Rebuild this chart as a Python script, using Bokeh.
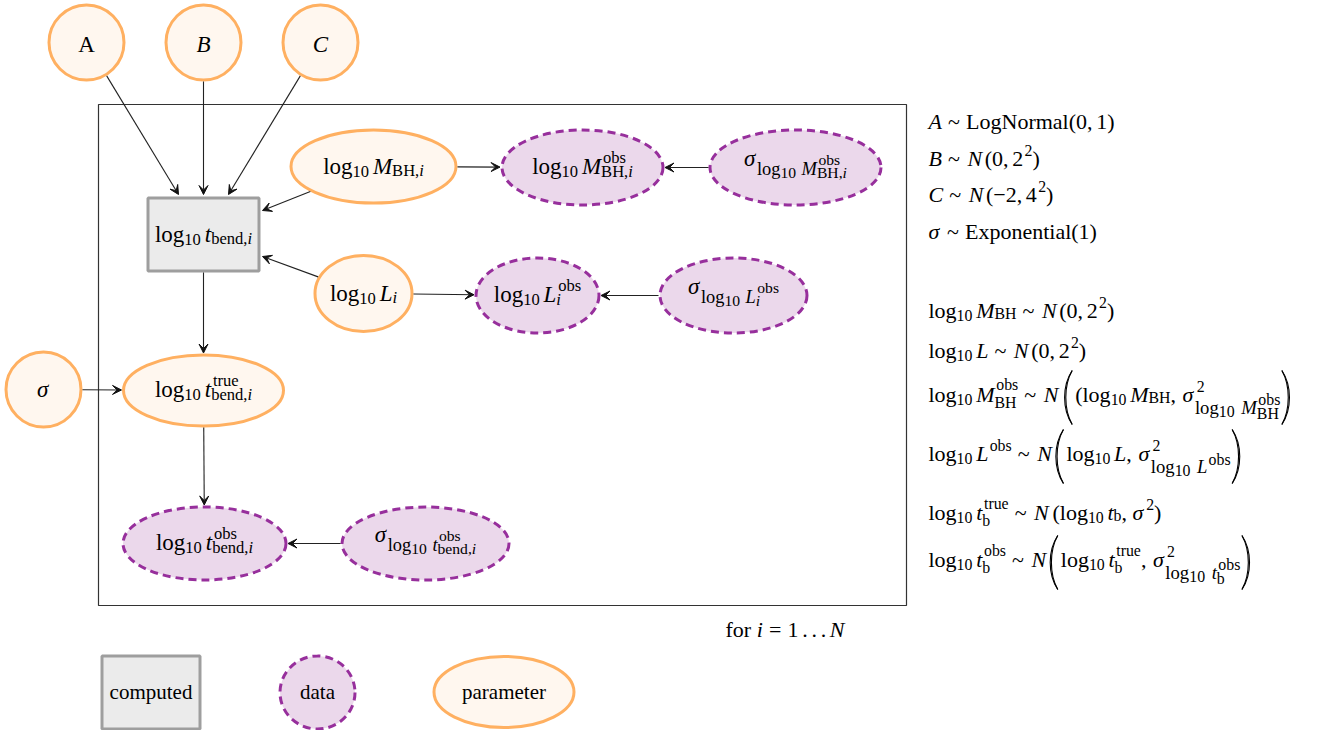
import math
from bokeh.plotting import figure
from bokeh.models import Range1d, Arrow, VeeHead, ColumnDataSource
from bokeh.embed import file_html
from bokeh.resources import INLINE
from bokeh.core.properties import value

# ---------------- rich-text helpers (math-like labels) ----------------
def R(t): return ("r", t)
def I(t): return ("i", t)
def SP(e): return ("sp", e)
def SUB(items, d=0.15, f=None): return ("sub", items, d, f)
def SUP(items, r=0.36): return ("sup", items, r)
def SS(sup, sub, r=0.40, d=0.25, f=None): return ("ss", sup, sub, r, d, f)
def BIG(ch): return ("big", ch)

def LOG10(gap=0.167): return [R("log"), SUB([R("10")], 0.22), SP(gap)]
SIM = [SP(0.278), R("~"), SP(0.278)]
NN = [SP(0.06), I("N"), SP(0.12)]          # the normal-distribution symbol

# ---------------- diagram content ----------------
node_ids   = ["A", "B", "C", "sig", "tb", "M", "Mo", "sM", "L", "Lo", "sL", "tt", "to", "st"]
node_kinds = ["param", "param", "param", "param", "computed", "param", "data", "data",
              "param", "data", "data", "param", "data", "data"]
node_labels = [
    [R("A")],
    [I("B")],
    [I("C")],
    [I("σ")],
    LOG10() + [I("t"), SUB([R("bend,"), I("i")], 0.18)],
    LOG10() + [I("M"), SUB([R("BH,"), I("i")], 0.18)],
    LOG10() + [I("M"), SS([R("obs")], [R("BH,"), I("i")], 0.38, 0.24)],
    [I("σ"), SUB(LOG10(0.3) + [I("M"), SS([R("obs")], [R("BH,"), I("i")], 0.5, 0.2)], 0.48, 0.8)],
    LOG10() + [I("L"), SUB([I("i")], 0.18)],
    LOG10() + [I("L"), SS([R("obs")], [I("i")], 0.38, 0.24)],
    [I("σ"), SUB(LOG10(0.3) + [I("L"), SS([R("obs")], [I("i")], 0.5, 0.2)], 0.48, 0.8)],
    LOG10() + [I("t"), SS([R("true")], [R("bend,"), I("i")], 0.38, 0.24)],
    LOG10() + [I("t"), SS([R("obs")], [R("bend,"), I("i")], 0.38, 0.24)],
    [I("σ"), SUB(LOG10(0.3) + [I("t"), SS([R("obs")], [R("bend,"), I("i")], 0.5, 0.2)], 0.48, 0.8)],
]

edge_src = ["A", "B", "C", "M", "L", "tb", "sig", "tt", "st", "M", "sM", "L", "sL"]
edge_dst = ["tb", "tb", "tb", "tb", "tb", "tt", "tt", "to", "to", "Mo", "Mo", "Lo", "Lo"]

legend_labels = ["computed", "data", "parameter"]
legend_kinds = ["computed", "data", "param"]

plate_label = [R("for "), I("i"), SP(0.278), R("="), SP(0.278), R("1"), SP(0.17), R("."),
               SP(0.17), R("."), SP(0.17), R("."), SP(0.17), I("N")]

equations = [
    [I("A")] + SIM + [R("LogNormal(0,"), SP(0.167), R("1)")],
    [I("B")] + SIM + NN + [R("(0,"), SP(0.167), R("2"), SUP([R("2")]), R(")")],
    [I("C")] + SIM + NN + [R("(−2,"), SP(0.167), R("4"), SUP([R("2")]), R(")")],
    [I("σ")] + SIM + [R("Exponential(1)")],
    LOG10() + [I("M"), SUB([R("BH")])] + SIM + NN + [R("(0,"), SP(0.167), R("2"), SUP([R("2")]), R(")")],
    LOG10() + [I("L")] + SIM + NN + [R("(0,"), SP(0.167), R("2"), SUP([R("2")]), R(")")],
    LOG10() + [I("M"), SS([R("obs")], [R("BH")], 0.45, 0.38)] + SIM + NN
    + [SP(0.1), BIG("("), R("(log"), SUB([R("10")], 0.22), SP(0.167), I("M"), SUB([R("BH")]),
       R(","), SP(0.3), I("σ"),
       SS([R("2")], LOG10(0.35) + [I("M"), SS([R("obs")], [R("BH")], 0.45, 0.3)], 0.38, 0.6, 0.85),
       BIG(")")],
    LOG10() + [I("L"), SUP([R("obs")], 0.38)] + SIM + NN
    + [BIG("(")] + LOG10() + [I("L"), R(","), SP(0.3), I("σ"),
       SS([R("2")], LOG10(0.35) + [I("L"), SUP([R("obs")], 0.4)], 0.38, 0.6, 0.85), BIG(")")],
    LOG10() + [I("t"), SS([R("true")], [R("b")], 0.4, 0.38)] + SIM + NN
    + [SP(0.05), R("(")] + LOG10() + [I("t"), SUB([R("b")]), R(","), SP(0.25), I("σ"),
       SUP([R("2")]), R(")")],
    LOG10() + [I("t"), SS([R("obs")], [R("b")], 0.4, 0.38)] + SIM + NN
    + [BIG("(")] + LOG10() + [I("t"), SS([R("true")], [R("b")], 0.4, 0.38),
       R(","), SP(0.3), I("σ"),
       SS([R("2")], LOG10(0.35) + [I("t"), SS([R("obs")], [R("b")], 0.45, 0.3)], 0.38, 0.6, 0.85),
       BIG(")")],
]

# ---------------- layout (pixel coordinates of the picture) ----------------
node_x = [86, 203, 320, 43, 203, 373, 582, 795, 363, 537, 733, 203, 204, 425]
node_y = [42, 42, 42, 389, 234, 166, 167, 167, 293, 295, 295, 390, 543, 543]
node_w = [75, 75, 75, 75, 111, 165, 161, 171, 97, 123, 147, 160, 163, 167]
node_h = [75, 75, 75, 75, 73, 73, 75, 75, 76, 75, 75, 71, 73, 73]
# landing points on the computed box (offset from its centre)
box_anchor = {"A": (-25, -40), "B": (0, -40), "C": (25, -40), "M": (59, -24), "L": (59, 22)}

legend_x = [150.5, 317, 503.5]
legend_y = [692, 692, 691.5]
legend_w = [98, 75, 140]
legend_h = [73, 73, 71]

plate = dict(left=98, right=906, top=104, bottom=605)
plate_label_xy = (725, 635)
eq_x = 928
eq_baselines = [127, 164, 200, 237, 316, 356, 400, 459, 518, 565]

W, H = 1318, 730
TEXT_DY = -6.0   # correction between requested and rendered alphabetic baseline

# ---------------- styles ----------------
FONT = "Liberation Serif"
ORANGE, ORANGE_FILL = "#ffb061", "#fff7ef"
PURPLE, PURPLE_FILL = "#972f9c", "#ebd8eb"
GRAY, GRAY_FILL = "#9e9e9e", "#ebebeb"

ROMAN = {" ": 250, "(": 333, ")": 333, ",": 250, "-": 333, ".": 250, "=": 564, "~": 541, "−": 564,
         "A": 722, "B": 667, "C": 667, "D": 722, "E": 611, "F": 556, "G": 722, "H": 722, "I": 333,
         "L": 611, "M": 889, "N": 722, "O": 722, "P": 556, "R": 667, "S": 556, "T": 611, "X": 722,
         "a": 444, "b": 500, "c": 444, "d": 500, "e": 444, "f": 333, "g": 500, "h": 500, "i": 278,
         "j": 278, "k": 500, "l": 278, "m": 778, "n": 500, "o": 500, "p": 500, "q": 500, "r": 333,
         "s": 389, "t": 278, "u": 500, "v": 500, "w": 722, "x": 500, "y": 500, "z": 444, "σ": 560}
for d in "0123456789":
    ROMAN[d] = 500
ITAL = {"A": 611, "B": 611, "C": 667, "L": 556, "M": 833, "N": 667, "i": 278, "t": 278, "σ": 560}


def text_width(t, style, size):
    tab = ITAL if style == "italic" else ROMAN
    return sum(tab.get(ch, ROMAN.get(ch, 500)) for ch in t) * size / 1000.0


def script(size, depth, f=None):
    if f is None:
        f = 0.72 if depth == 0 else 0.85
    return max(size * f, 11.5)


PAREN_H = 54
parens = []  # (x_left_of_ink, y_centre, height, side)


def lay(items, x, y, size, out, depth=0, record=True):
    for it in items:
        k = it[0]
        if k in ("r", "i"):
            st = "italic" if k == "i" else "normal"
            out.append((x, y, it[1], size, st))
            x += text_width(it[1], st, size)
        elif k == "sp":
            x += it[1] * size
        elif k == "sub":
            x = lay(it[1], x, y + it[2] * size, script(size, depth, it[3]), out, depth + 1, record)
        elif k == "sup":
            x = lay(it[1], x + 0.06 * size, y - it[2] * size, script(size, depth), out, depth + 1, record)
        elif k == "ss":
            x1 = lay(it[1], x + 0.08 * size, y - it[3] * size, script(size, depth), out, depth + 1, record)
            x2 = lay(it[2], x, y + it[4] * size, script(size, depth, it[5]), out, depth + 1, record)
            x = max(x1, x2)
        elif k == "big":
            if record:
                parens.append((x + 1.5, y - 3.0, PAREN_H, it[1]))
            x += 12
    return x


glyphs = []


def place(items, x, y, size, center=False):
    if center:
        w = lay(items, 0, 0, size, [], record=False)
        x = x - w / 2.0
    lay(items, x, y, size, glyphs)


def label_dy(items):
    first = items[0]
    if first == I("σ") and len(items) > 1:
        return -3.5
    if any(it[0] in ("ss", "sup") for it in items):
        return 4.5
    if len(items) == 1 and first[1] in ("A", "B", "C"):
        return 7.5
    return 5.5


# ---------------- figure ----------------
p = figure(width=W, height=H, x_range=Range1d(0, W), y_range=Range1d(H, 0),
           output_backend="svg", toolbar_location=None, tools="", min_border=0)
p.axis.visible = False
p.grid.visible = False
p.outline_line_color = None
p.background_fill_color = "white"
p.border_fill_color = "white"

# plate
p.quad(left=[plate["left"]], right=[plate["right"]], top=[plate["top"]], bottom=[plate["bottom"]],
       fill_color=None, line_color="#333333", line_width=1.2)

# nodes (diagram + legend)
all_kind = node_kinds + legend_kinds
all_x = node_x + legend_x
all_y = node_y + legend_y
all_w = node_w + legend_w
all_h = node_h + legend_h


def subset(kind):
    idx = [i for i, k in enumerate(all_kind) if k == kind]
    return ColumnDataSource(dict(x=[all_x[i] for i in idx], y=[all_y[i] for i in idx],
                                 w=[all_w[i] for i in idx], h=[all_h[i] for i in idx]))


p.ellipse(x="x", y="y", width="w", height="h", source=subset("param"),
          fill_color=ORANGE_FILL, line_color=ORANGE, line_width=3)
p.ellipse(x="x", y="y", width="w", height="h", source=subset("data"),
          fill_color=PURPLE_FILL, line_color=PURPLE, line_width=3, line_dash="8 5")
p.rect(x="x", y="y", width="w", height="h", source=subset("computed"),
       fill_color=GRAY_FILL, line_color=GRAY, line_width=3)

# edges
pos = {n: i for i, n in enumerate(node_ids)}


def boundary(i, tx, ty, pad):
    cx, cy = node_x[i], node_y[i]
    a, b = node_w[i] / 2.0 + pad, node_h[i] / 2.0 + pad
    dx, dy = tx - cx, ty - cy
    if node_kinds[i] == "computed":
        t = min(a / abs(dx) if dx else 1e9, b / abs(dy) if dy else 1e9)
    else:
        t = 1.0 / math.sqrt((dx / a) ** 2 + (dy / b) ** 2)
    return cx + t * dx, cy + t * dy


xs0, ys0, xs1, ys1 = [], [], [], []
for s, d in zip(edge_src, edge_dst):
    si, di = pos[s], pos[d]
    if node_kinds[di] == "computed":
        ox, oy = box_anchor[s]
        ex, ey = node_x[di] + ox, node_y[di] + oy
    else:
        ex, ey = boundary(di, node_x[si], node_y[si], 2.0)
    sx, sy = boundary(si, ex, ey, 1.5)
    xs0.append(sx); ys0.append(sy); xs1.append(ex); ys1.append(ey)

p.add_layout(Arrow(end=VeeHead(size=9, fill_color="#111111", line_color="#111111", line_width=1),
                   source=ColumnDataSource(dict(x0=xs0, y0=ys0, x1=xs1, y1=ys1)),
                   x_start="x0", y_start="y0", x_end="x1", y_end="y1",
                   line_color="#222222", line_width=1.1))

# labels
for i, lab in enumerate(node_labels):
    place(lab, node_x[i], node_y[i] + label_dy(lab), 23, center=True)
for i, lab in enumerate(legend_labels):
    place([R(lab)], legend_x[i], legend_y[i] + 5.5, 21, center=True)
place(plate_label, plate_label_xy[0], plate_label_xy[1], 22)
for eq, yb in zip(equations, eq_baselines):
    place(eq, eq_x, yb, 22)

groups = {}
for (x, y, t, size, st) in glyphs:
    groups.setdefault((round(size, 2), st), []).append((x, y, t))
for (size, st), rows in groups.items():
    src = ColumnDataSource(dict(x=[r[0] for r in rows], y=[r[1] + TEXT_DY for r in rows],
                                t=[r[2] for r in rows]))
    p.text(x="x", y="y", text="t", source=src, text_font=value(FONT),
           text_font_size=value(f"{size}px"), text_font_style=st,
           text_align="left", text_baseline="alphabetic", text_color="black")

# large delimiters, drawn as thin curved strokes
bx0, by0, bx1, by1, bc0x, bc0y, bc1x, bc1y = [], [], [], [], [], [], [], []
for (xl, yc, h, side) in parens:
    top, bot = yc - h / 2.0, yc + h / 2.0
    for bulge in (0.0, 1.6):
        if side == "(":
            xe, xc = xl + 7.5, xl - 1.0 - bulge
        else:
            xe, xc = xl, xl + 8.5 + bulge
        bx0.append(xe); by0.append(top); bx1.append(xe); by1.append(bot)
        bc0x.append(xc); bc0y.append(top + 0.28 * h); bc1x.append(xc); bc1y.append(bot - 0.28 * h)
p.bezier(x0=bx0, y0=by0, x1=bx1, y1=by1, cx0=bc0x, cy0=bc0y, cx1=bc1x, cy1=bc1y,
         line_color="black", line_width=1.1)

open("out.html", "w").write(file_html(p, INLINE))
